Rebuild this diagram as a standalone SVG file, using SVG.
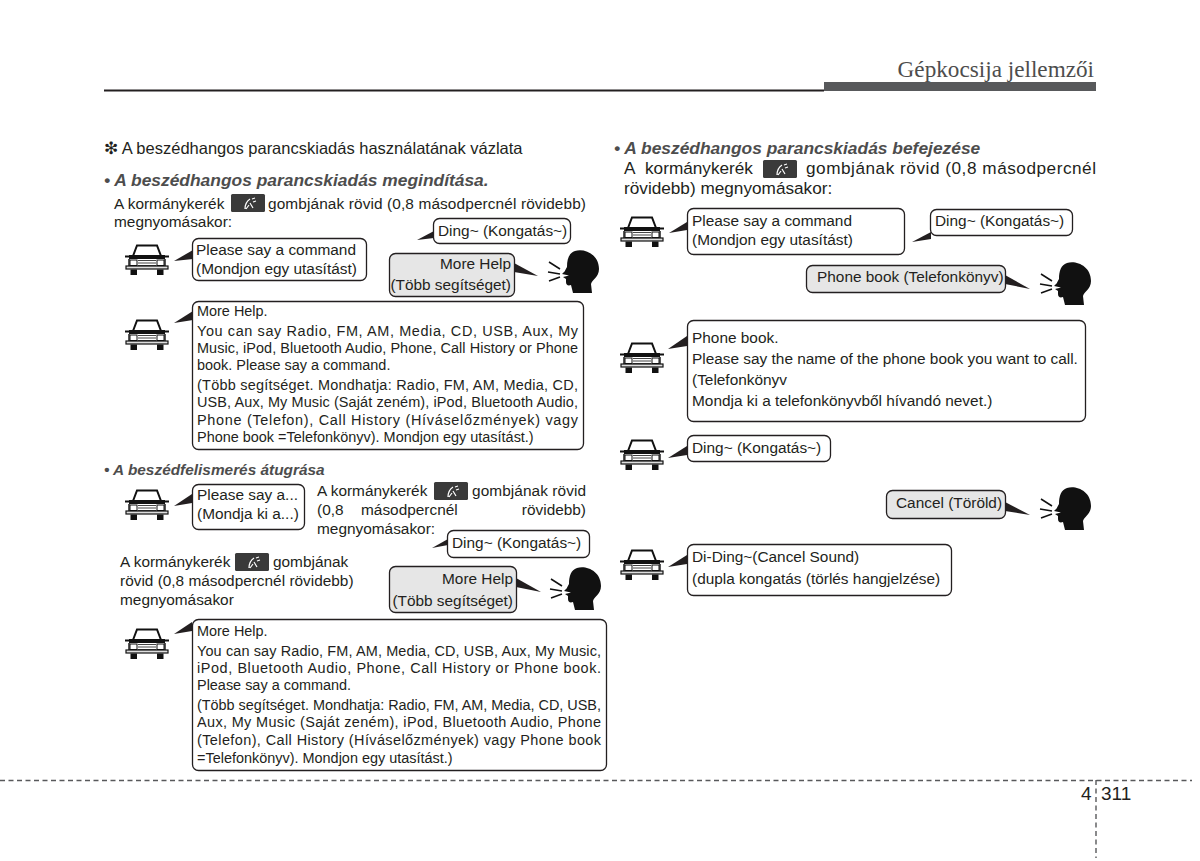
<svg xmlns="http://www.w3.org/2000/svg" width="1200" height="861" viewBox="0 0 1200 861">
<style>
text{font-family:"Liberation Sans",Arial,sans-serif;fill:#231f20}
.t{font-size:15.400px}
.r{font-size:17.200px}
.m{font-size:14.450px}
.b{font-size:17.400px;font-weight:bold;font-style:italic;fill:#4d4d4d}
.bs{font-size:15.400px;font-weight:bold;font-style:italic;fill:#4d4d4d}
.w{fill:#fff;stroke:#231f20;stroke-width:1.3}
.g{fill:#e6e6e6;stroke:#231f20;stroke-width:1.3}
.tail{fill:#231f20}
</style>
<defs>
<g id="car">
<path d="M-14-3L-10-13.500H10L14-3Z" fill="#fff" stroke="#111" stroke-width="2"/>
<path d="M-22-3.500H-18V-1.500H-22ZM18-3.500H22V-1.500H18Z" fill="#111"/>
<rect x="-18" y="-4" width="36" height="4" fill="#111"/>
<path d="M-18 0V7M18 0V7" stroke="#111" stroke-width="1.400"/>
<rect x="-17" y="1" width="7" height="5.500" fill="#fff" stroke="#111" stroke-width="1"/>
<rect x="10" y="1" width="7" height="5.500" fill="#fff" stroke="#111" stroke-width="1"/>
<path d="M-9 1.500H9M-9 4H9M-9 6.500H9" stroke="#444" stroke-width="1"/>
<rect x="-21" y="7" width="42" height="3" fill="#ddd" stroke="#111" stroke-width="1.200"/>
<rect x="-16.500" y="10.500" width="6.500" height="5.500" fill="#111"/>
<rect x="10" y="10.500" width="6.500" height="5.500" fill="#111"/>
</g>
<g id="head">
<path d="M-4-21C5-24 20-18 20-3C20 5 13 8 12 12L13 21H-6L-8 13C-11 14-13 13-13 10L-13 7L-16 5L-10 3.500L-17 2L-14-1C-14-2-13-3-12-5C-12-13-10-19-4-21Z" fill="#111"/>
<path d="M-30-10L-19-3M-31 0L-19 2M-30 9L-19 5" stroke="#111" stroke-width="1.500" fill="none"/>
</g>
<g id="btn">
<rect width="34" height="18" rx="1.500" fill="#3a3a3a"/>
<path d="M14 15C14 10 16 7 19 5M19 9L22 14M18 11L15 15M21 5L24 4M22 8L25 7" stroke="#fff" stroke-width="1.200" fill="none"/>
</g>
</defs>

<g id="page-frame">
<text x="1094" y="77" text-anchor="end" style="font-family:'Liberation Serif',serif;font-size:23.200px;fill:#4d4d4d">Gépkocsija jellemzői</text>
<rect x="104" y="89.500" width="720" height="2" fill="#231f20"/>
<rect x="824" y="82" width="272" height="9" fill="#58595b"/>
<path d="M0 780.500H1192M1096 780V858" stroke="#58595b" stroke-width="1.400" stroke-dasharray="5 3.500" fill="none"/>
<text x="1081" y="800" style="font-size:19px">4</text>
<text x="1101" y="800" style="font-size:19px">311</text>
</g>

<g id="left-text">
<text x="104" y="154" style="font-size:16.500px">❇ A beszédhangos parancskiadás használatának vázlata</text>
<text x="104" y="186" class="b">• A beszédhangos parancskiadás megindítása.</text>
<text x="114" y="209" class="t">A kormánykerék</text>
<use href="#btn" x="231" y="194"/>
<text x="268" y="209" class="t" textLength="318">gombjának rövid (0,8 másodpercnél rövidebb)</text>
<text x="114" y="227" class="t">megnyomásakor:</text>
<text x="104" y="475" class="bs">• A beszédfelismerés átugrása</text>
<text x="317" y="496" class="t">A kormánykerék</text>
<use href="#btn" x="434" y="482"/>
<text x="472" y="496" class="t" textLength="114">gombjának rövid</text>
<text x="317" y="515" class="t">(0,8</text>
<text x="361" y="515" class="t">másodpercnél</text>
<text x="586" y="515" class="t" text-anchor="end">rövidebb)</text>
<text x="317" y="534" class="t">megnyomásakor:</text>
<text x="120" y="567" class="t">A kormánykerék</text>
<use href="#btn" x="235" y="553"/>
<text x="273" y="567" class="t">gombjának</text>
<text x="120" y="586" class="t">rövid (0,8 másodpercnél rövidebb)</text>
<text x="120" y="605" class="t">megnyomásakor</text>
</g>

<g id="right-text">
<text x="614" y="154" class="b">• A beszédhangos parancskiadás befejezése</text>
<text x="624" y="174" class="r">A</text>
<text x="645" y="174" class="r">kormánykerék</text>
<use href="#btn" x="763" y="160"/>
<text x="806" y="174" class="r" textLength="290">gombjának rövid (0,8 másodpercnél</text>
<text x="624" y="194" class="r">rövidebb) megnyomásakor:</text>
</g>

<g id="connectors">
<path class="tail" d="M174 261L193 250V259Z"/>
<path class="tail" d="M174 323L193 311V320Z"/>
<path class="tail" d="M417 240L434 231V238Z"/>
<path class="tail" d="M538 276L514 263V272Z"/>
<path class="tail" d="M174 506L192 494V503Z"/>
<path class="tail" d="M174 634L192 622V631Z"/>
<path class="tail" d="M432 548L448 539V545Z"/>
<path class="tail" d="M541 592L516 578V587Z"/>
<path class="tail" d="M669 233L687 222V230Z"/>
<path class="tail" d="M912 242L931 232V239Z"/>
<path class="tail" d="M1030 289L1005 275V284Z"/>
<path class="tail" d="M668 349L687 336V346Z"/>
<path class="tail" d="M668 458L687 446V455Z"/>
<path class="tail" d="M1030 515L1005 502V511Z"/>
<path class="tail" d="M668 567L687 555V564Z"/>
</g>

<g id="car-1"><use href="#car" x="147" y="259"/></g>
<g id="n1"><rect class="w" x="192.500" y="238.500" width="174" height="42" rx="6"/>
<text x="196" y="255" class="t">Please say a command</text><text x="196" y="274" class="t">(Mondjon egy utasítást)</text></g>
<g id="n2"><rect class="w" x="433.500" y="218.500" width="137" height="25" rx="6"/>
<text x="438" y="236" class="t">Ding~ (Kongatás~)</text></g>
<g id="n3"><rect class="g" x="389.500" y="253.500" width="125" height="43" rx="6"/>
<text x="511" y="269" class="t" text-anchor="end">More Help</text><text x="511" y="290" class="t" text-anchor="end">(Több segítséget)</text></g>
<g id="head-1"><use href="#head" x="579" y="272"/></g>

<g id="car-2"><use href="#car" x="147" y="334"/></g>
<g id="n4"><rect class="w" x="192.500" y="301.500" width="391" height="148" rx="6"/>
<text x="197" y="316" class="m">More Help.</text>
<text x="197" y="336" class="m" textLength="381">You can say Radio, FM, AM, Media, CD, USB, Aux, My</text>
<text x="197" y="353" class="m" textLength="381">Music, iPod, Bluetooth Audio, Phone, Call History or Phone</text>
<text x="197" y="370" class="m">book. Please say a command.</text>
<text x="197" y="390" class="m" textLength="381">(Több segítséget. Mondhatja: Radio, FM, AM, Media, CD,</text>
<text x="197" y="407" class="m" textLength="381">USB, Aux, My Music (Saját zeném), iPod, Bluetooth Audio,</text>
<text x="197" y="425" class="m" textLength="381">Phone (Telefon), Call History (Híváselőzmények) vagy</text>
<text x="197" y="442" class="m">Phone book =Telefonkönyv). Mondjon egy utasítást.)</text></g>

<g id="car-3"><use href="#car" x="147" y="504"/></g>
<g id="n5"><rect class="w" x="192.500" y="484.500" width="112" height="45" rx="6"/>
<text x="197" y="500" class="t">Please say a...</text><text x="197" y="519" class="t">(Mondja ki a...)</text></g>
<g id="n6"><rect class="w" x="447.500" y="530.500" width="142" height="27" rx="6"/>
<text x="452" y="548" class="t">Ding~ (Kongatás~)</text></g>
<g id="n7"><rect class="g" x="389.500" y="566.500" width="127" height="46" rx="6"/>
<text x="513" y="584" class="t" text-anchor="end">More Help</text><text x="513" y="606" class="t" text-anchor="end">(Több segítséget)</text></g>
<g id="head-2"><use href="#head" x="581" y="589"/></g>

<g id="car-4"><use href="#car" x="147" y="643"/></g>
<g id="n8"><rect class="w" x="192.500" y="619.500" width="414" height="151" rx="6"/>
<text x="197" y="636" class="m">More Help.</text>
<text x="197" y="656" class="m" textLength="404">You can say Radio, FM, AM, Media, CD, USB, Aux, My Music,</text>
<text x="197" y="673" class="m" textLength="404">iPod, Bluetooth Audio, Phone, Call History or Phone book.</text>
<text x="197" y="690" class="m">Please say a command.</text>
<text x="197" y="710" class="m" textLength="404">(Több segítséget. Mondhatja: Radio, FM, AM, Media, CD, USB,</text>
<text x="197" y="727" class="m" textLength="404">Aux, My Music (Saját zeném), iPod, Bluetooth Audio, Phone</text>
<text x="197" y="745" class="m" textLength="404">(Telefon), Call History (Híváselőzmények) vagy Phone book</text>
<text x="197" y="763" class="m">=Telefonkönyv). Mondjon egy utasítást.)</text></g>

<g id="car-5"><use href="#car" x="642" y="231"/></g>
<g id="n9"><rect class="w" x="687.500" y="208.500" width="217" height="46" rx="6"/>
<text x="692" y="226" class="t">Please say a command</text><text x="692" y="245" class="t">(Mondjon egy utasítást)</text></g>
<g id="n10"><rect class="w" x="930.500" y="209.500" width="142" height="26" rx="6"/>
<text x="935" y="226" class="t">Ding~ (Kongatás~)</text></g>
<g id="n11"><rect class="g" x="806.500" y="265.500" width="199" height="27" rx="6"/>
<text x="817" y="282" class="t">Phone book (Telefonkönyv)</text></g>
<g id="head-3"><use href="#head" x="1071" y="284"/></g>

<g id="car-6"><use href="#car" x="642" y="357"/></g>
<g id="n12"><rect class="w" x="687.500" y="320.500" width="398" height="101" rx="6"/>
<text x="692" y="343" class="t">Phone book.</text>
<text x="692" y="364" class="t">Please say the name of the phone book you want to call.</text>
<text x="692" y="385" class="t">(Telefonkönyv</text>
<text x="692" y="406" class="t">Mondja ki a telefonkönyvből hívandó nevet.)</text></g>

<g id="car-7"><use href="#car" x="642" y="454"/></g>
<g id="n13"><rect class="w" x="687.500" y="435.500" width="143" height="26" rx="6"/>
<text x="692" y="453" class="t">Ding~ (Kongatás~)</text></g>

<g id="n14"><rect class="g" x="886.500" y="490.500" width="119" height="28" rx="6"/>
<text x="896" y="508" class="t">Cancel (Töröld)</text></g>
<g id="head-4"><use href="#head" x="1071" y="509"/></g>

<g id="car-8"><use href="#car" x="642" y="564"/></g>
<g id="n15"><rect class="w" x="687.500" y="544.500" width="264" height="51" rx="6"/>
<text x="692" y="562" class="t">Di-Ding~(Cancel Sound)</text>
<text x="692" y="584" class="t">(dupla kongatás (törlés hangjelzése)</text></g>
</svg>
